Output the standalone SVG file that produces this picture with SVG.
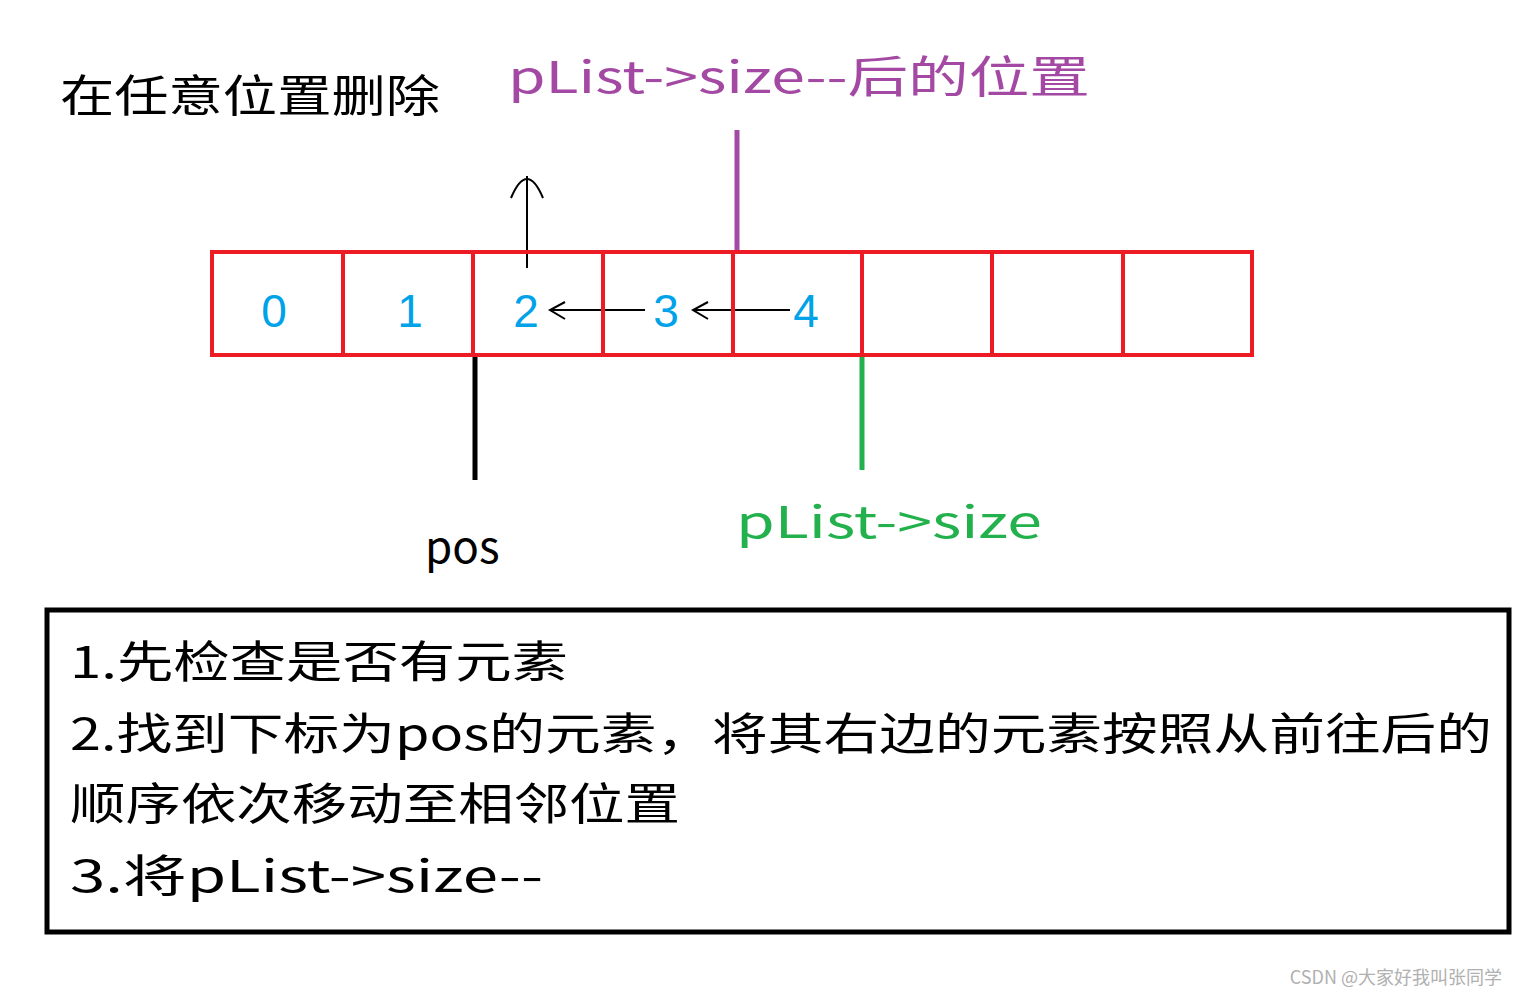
<svg xmlns="http://www.w3.org/2000/svg" width="1518" height="997" viewBox="0 0 1518 997">
<style>
.t{font-family:"Noto Sans CJK SC","Liberation Sans",sans-serif;font-size:44px}
.d{font-family:"Liberation Sans",sans-serif;font-size:46px;fill:#00a2e8;text-anchor:middle}
.c{fill:none;stroke:#ed1c24;stroke-width:4}
.k{stroke:#000;stroke-width:2;fill:none}
</style>
<rect width="1518" height="997" fill="#fff"/>
<text class="t" x="60" y="112" textLength="380" lengthAdjust="spacingAndGlyphs">在任意位置删除</text>
<text class="t" x="508" y="93" fill="#a349a4" textLength="582" lengthAdjust="spacingAndGlyphs">pList-&gt;size--后的位置</text>
<g id="connectors">
<line x1="737" y1="130" x2="737" y2="252" stroke="#a349a4" stroke-width="5"/>
<line x1="475" y1="355" x2="475" y2="480" stroke="#000" stroke-width="5"/>
<line x1="862" y1="355" x2="862" y2="470" stroke="#22b14c" stroke-width="5"/>
<path class="k" d="M527 268 V176 M511 198 Q527 160 543 198"/>
<path class="k" d="M645 310 H552 M565 302 L550 310 L565 319"/>
<path class="k" d="M790 310 H695 M708 302 L693 310 L708 319"/>
</g>
<g id="array">
<rect class="c" x="212" y="252" width="1040" height="103"/>
<path class="c" d="M343 252V355M473 252V355M603 252V355M733 252V355M862 252V355M992 252V355M1123 252V355"/>
<text class="d" x="274" y="327">0</text>
<text class="d" x="410" y="327">1</text>
<text class="d" x="526" y="327">2</text>
<text class="d" x="666" y="327">3</text>
<text class="d" x="806" y="327">4</text>
</g>
<text class="t" x="736" y="538" fill="#22b14c" textLength="306" lengthAdjust="spacingAndGlyphs">pList-&gt;size</text>
<text class="t" x="425" y="563" font-size="40">pos</text>
<g id="note">
<rect x="47" y="610" width="1462" height="322" fill="none" stroke="#000" stroke-width="5"/>
<text class="t" x="70" y="678" textLength="498" lengthAdjust="spacingAndGlyphs">1.先检查是否有元素</text>
<text class="t" x="70" y="750" textLength="1422" lengthAdjust="spacingAndGlyphs">2.找到下标为pos的元素，将其右边的元素按照从前往后的</text>
<text class="t" x="70" y="820" textLength="610" lengthAdjust="spacingAndGlyphs">顺序依次移动至相邻位置</text>
<text class="t" x="70" y="892" textLength="473" lengthAdjust="spacingAndGlyphs">3.将pList-&gt;size--</text>
</g>
<text x="1502" y="984" text-anchor="end" font-family="Noto Sans CJK SC,sans-serif" font-size="18" fill="#b0b0b0">CSDN @大家好我叫张同学</text>
</svg>
